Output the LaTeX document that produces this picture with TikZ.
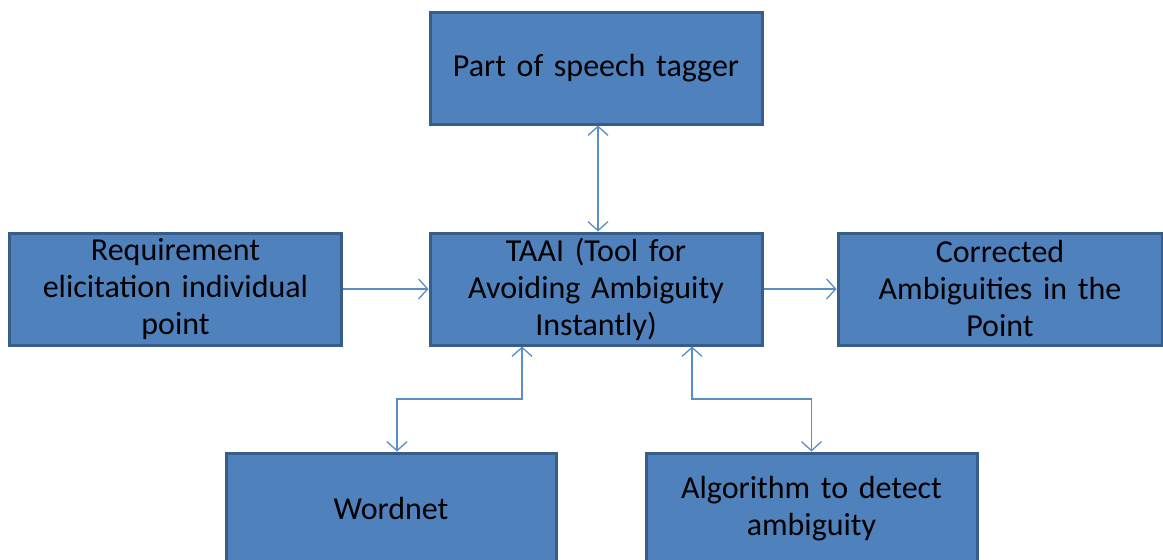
\documentclass[tikz,border=0pt]{standalone}
\usepackage{fontspec}
\setmainfont{Carlito}
\usetikzlibrary{arrows.meta}
\definecolor{boxfill}{RGB}{79,129,189}
\definecolor{boxline}{RGB}{56,93,138}
\definecolor{linkcol}{RGB}{90,140,200}
\tikzset{
	blok/.style={draw=boxline, fill=boxfill, line width=3pt, minimum width=332pt,
		minimum height=112pt, inner sep=0pt, text width=320pt, align=center,
		font=\fontsize{32}{37}\selectfont},
	link/.style={draw=linkcol, line width=1.3pt, {Straight Barb[length=9pt,width=20pt]}-{Straight Barb[length=9pt,width=20pt]}},
	onelink/.style={draw=linkcol, line width=1.3pt, -{Straight Barb[length=9pt,width=20pt]}}
}
\begin{document}
\begin{tikzpicture}[x=1pt,y=-1pt]
	\useasboundingbox (0,0) rectangle (1163,560);
	\path
	coordinate (pPos) at (596,68)
	coordinate (pReq) at (175.5,289)
	coordinate (pTaai) at (596,289)
	coordinate (pCorr) at (1000,289)
	coordinate (pWn) at (391,509)
	coordinate (pAlg) at (811.5,509)
	coordinate (bendL) at (522,399)
	coordinate (bendR) at (692,399)
	;
	\node[blok] (pos) at (pPos) {Part of speech tagger};
	\node[blok] (req) at (pReq) {Requirement\\elicitation individual\\point};
	\node[blok] (taai) at (pTaai) {TAAI (Tool for\\Avoiding Ambiguity\\Instantly)};
	\node[blok, minimum width=324pt] (corr) at (pCorr) {Corrected\\Ambiguities in the\\Point};
	\node[blok, minimum width=330pt] (wn) at (pWn) {Wordnet};
	\node[blok, minimum width=331pt] (alg) at (pAlg) {Algorithm to detect\\ambiguity};
	\draw[link] ([xshift=2pt]pos.south) -- ([xshift=2pt]taai.north);
	\draw[onelink] (req) -- (taai);
	\draw[onelink] (taai) -- (corr);
	\draw[link] (taai.south -| bendL) -- (bendL) -| ([xshift=6pt]wn.north);
	\draw[link] (taai.south -| bendR) -- (bendR) -| (alg.north);
\end{tikzpicture}
\end{document}
